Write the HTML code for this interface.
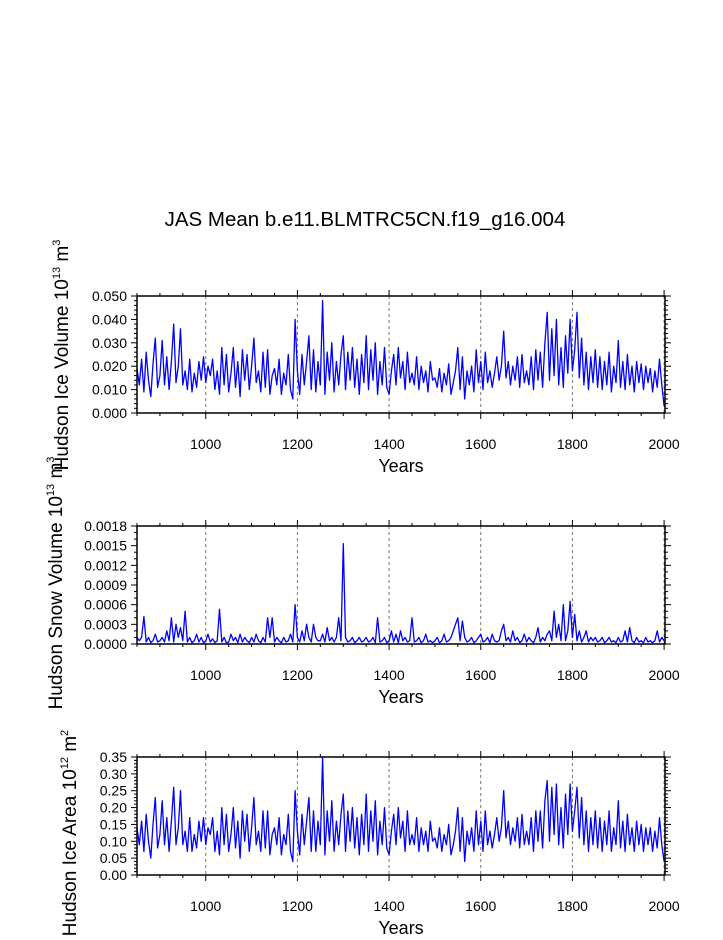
<!DOCTYPE html>
<html><head><meta charset="utf-8"><style>
body{margin:0;background:#fff}
svg{font-family:"Liberation Sans",Arial,sans-serif}
</style></head><body>
<svg id="c" width="723" height="935" viewBox="0 0 723 935">
<text x="365" y="226" font-size="20.5" text-anchor="middle">JAS Mean b.e11.BLMTRC5CN.f19_g16.004</text>
</svg>
<script>
// Ice volume (units of 1e-3 x 10^13 m^3), years 850..2000 step 5
const volVals=[19,12,23,9,26,14,7,21,32,11, 16,31,12,24,10,22,38,13,20,36, 12,18,10,23,9,17,11,22,14,24,
13,20,16,23,10,18,8,28,12,25, 9,17,28,11,22,7,27,14,25,10, 20,32,13,18,9,26,11,27,8,16,
19,12,23,8,17,12,25,10,6,40, 18,8,25,12,22,33,10,27,9,22, 12,48,8,26,14,30,9,22,12,25,
33,10,26,14,28,11,23,8,25,13, 33,10,27,14,30,8,22,12,28,11, 8,18,25,12,28,15,22,10,26,13,
17,12,24,10,20,13,18,9,22,14, 15,11,19,9,17,12,21,8,13,18, 28,10,24,6,18,12,20,9,27,13,
22,10,26,13,18,11,17,24,14,20, 35,15,22,12,20,14,24,11,25,13, 18,12,24,10,27,14,26,11,30,43,
14,36,16,40,12,28,11,33,17,40, 18,27,43,15,32,12,26,10,24,13, 27,11,24,10,22,12,26,9,20,13,
31,11,22,10,25,12,20,9,22,13, 21,10,20,13,19,9,18,11,23,12, 3];
// Snow volume (units of 1e-4 x 10^13 m^3)
const snowVals=[1,0.5,1,4.2,0.3,1,0.2,0.5,1.5,0.3, 0.5,1,0.3,2,0.5,4,0.3,3,1,2.5, 0.5,5,0.3,1,0.2,0.5,1.5,0.3,1,0.2,
0.5,1.5,0.3,0.8,0.2,0.5,5.3,0.3,1,0.2, 0.3,1.5,0.5,1,0.2,1.5,0.3,1,0.5,0.2, 1,0.3,1.5,0.5,0.2,1,0.3,4,1,4,
0.3,1,0.5,0.2,1,0.3,0.5,1.5,0.3,6, 1,0.3,2,0.5,3,1,0.3,3,1,0.5, 0.5,1.5,0.3,2.5,0.5,1,0.3,1,4,0.5,
15.3,1,0.3,0.5,1,0.2,0.5,1,0.3,0.5, 1,0.3,0.5,1,0.2,4,0.3,0.5,1,0.2, 0.5,2,0.3,1.5,0.2,2,0.5,1,0.3,0.5,
4,0.3,0.5,1,0.2,0.5,1.5,0.3,0.5,0.2, 0.5,1,0.2,0.5,1.5,0.3,0.5,1,2,3, 4,0.5,3.5,1,0.3,0.5,1,0.2,0.5,1,
1.5,0.3,0.5,1,0.2,1.5,0.5,0.3,0.5,2, 3,0.5,1,0.3,2,0.5,1,0.2,0.5,1.5, 0.3,1,0.5,0.2,1,2.5,0.3,1,0.5,1.5,
2,0.5,5,1,3,0.5,6,0.5,2,6.5, 1,4.5,0.5,2,0.3,1,2,0.3,1,0.5, 1,0.3,0.5,1,0.2,0.5,1,0.3,0.5,0.2,
1,0.3,0.5,2,0.3,2.5,0.5,0.2,1,0.3, 0.5,0.2,1,0.3,0.5,0.2,0.5,2,0.3,1, 0.5];
// Ice area (units of 1e-2 x 10^12 m^2)
const areaVals=[14,9,16,7,18,10,5,15,23,8, 12,22,9,17,7,16,26,9,14,25, 9,13,7,17,7,12,8,16,10,17,
9,14,12,17,7,13,6,20,9,18, 7,12,20,8,16,5,19,10,18,7, 14,23,9,13,7,19,8,19,6,12,
14,9,17,6,12,9,18,7,4,25, 13,6,18,9,16,23,7,19,7,16, 9,35,6,19,10,22,7,16,9,18,
24,7,19,10,20,8,17,6,18,9, 24,7,19,10,22,6,16,9,20,8, 6,13,18,9,20,11,16,7,19,9,
12,9,17,7,14,9,13,7,16,10, 11,8,14,7,12,9,15,6,9,13, 20,7,17,4,13,9,14,7,19,9,
16,7,19,9,13,8,12,17,10,14, 25,11,16,9,14,10,17,8,18,9, 13,9,17,7,19,10,19,8,22,28,
10,26,12,27,9,20,8,24,12,27, 13,19,26,11,23,9,19,7,17,9, 19,8,17,7,16,9,19,7,14,9,
22,8,16,7,18,9,14,7,16,9, 15,7,14,9,14,7,13,8,17,9, 4];
const years=[];for(let y=850;y<=2000;y+=5)years.push(y);
const xTicks=[1000,1200,1400,1600,1800,2000];
const volTicks=["0.000","0.010","0.020","0.030","0.040","0.050"];
const snowTicks=["0.0000","0.0003","0.0006","0.0009","0.0012","0.0015","0.0018"];
const areaTicks=["0.00","0.05","0.10","0.15","0.20","0.25","0.30","0.35"];

const NS="http://www.w3.org/2000/svg";
const svg=document.getElementById('c');
const X0=137,X1=665,Y0=850,Y1=2002;
const xs=y=>X0+(y-Y0)/(Y1-Y0)*(X1-X0);
function mk(t,a,p){const e=document.createElementNS(NS,t);for(const k in a)e.setAttribute(k,a[k]);(p||svg).appendChild(e);return e;}

const panels=[
 {name:'ice-volume',top:296,bot:413,vals:volVals,max:50,ticks:volTicks,step:10,minor:2,ly:355,lx:62,lab:'Hudson Ice Volume 10',sup:'13',unit:' m',usup:'3'},
 {name:'snow-volume',top:526,bot:644,vals:snowVals,max:18,ticks:snowTicks,step:3,minor:1,ly:583,lx:56,lab:'Hudson Snow Volume 10',sup:'13',unit:' m',usup:'3'},
 {name:'ice-area',top:757,bot:875,vals:areaVals,max:35,ticks:areaTicks,step:5,minor:1,ly:833,lx:70,lab:'Hudson Ice Area 10',sup:'12',unit:' m',usup:'2'}
];
panels.forEach(p=>{
 const g=mk('g',{});
 
 
 const ys=v=>p.bot-v/p.max*(p.bot-p.top);
 xTicks.forEach(t=>{const l=mk('line',{x1:xs(t),x2:xs(t),y1:p.top,y2:p.bot,stroke:'#777','stroke-width':1,'stroke-dasharray':'3,3'},g);
  });
 const d=p.vals.map((v,i)=>(i?'L':'M')+xs(years[i]).toFixed(1)+','+ys(v).toFixed(1)).join('');
 const path=mk('path',{d:d,fill:'none',stroke:'#0000ff','stroke-width':1.3,'stroke-linejoin':'round'},g);
 
 
 const fr=mk('rect',{x:X0,y:p.top,width:X1-X0,height:p.bot-p.top,fill:'none',stroke:'#000','stroke-width':1.5},g);
 
 for(let t=850;t<=2000;t+=50){const maj=t%200===0;const L=maj?6:3;const x=xs(t);
  mk('line',{x1:x,x2:x,y1:p.bot,y2:p.bot+L,stroke:'#000'},g);
  mk('line',{x1:x,x2:x,y1:p.top,y2:p.top-L,stroke:'#000'},g);}
 xTicks.forEach(t=>{const tx=mk('text',{x:xs(t),y:p.bot+36,'font-size':14,'text-anchor':'middle'},g);tx.textContent=t;
  });
 const xt=mk('text',{x:401,y:p.bot+59,'font-size':18,'text-anchor':'middle'},g);xt.textContent='Years';
 
 for(let v=0;v<=p.max+1e-9;v+=p.minor){const maj=Math.abs(v/p.step-Math.round(v/p.step))<1e-6;const L=maj?6:3;const y=ys(v);
  mk('line',{x1:X0,x2:X0-L,y1:y,y2:y,stroke:'#000'},g);
  mk('line',{x1:X1,x2:X1+L,y1:y,y2:y,stroke:'#000'},g);}
 p.ticks.forEach((s,i)=>{const tx=mk('text',{x:X0-10,y:ys(i*p.step)+5,'font-size':14,'text-anchor':'end'},g);tx.textContent=s;
  });
 const yt=mk('text',{x:0,y:0,'font-size':19,'text-anchor':'middle',transform:`translate(${p.lx+6},${p.ly}) rotate(-90)`},g);
 
 const a=mk('tspan',{},yt);a.textContent=p.lab;
 const b=mk('tspan',{dy:-8,'font-size':11},yt);b.textContent=p.sup;
 const c=mk('tspan',{dy:8},yt);c.textContent=p.unit;
 const d2=mk('tspan',{dy:-8,'font-size':11},yt);d2.textContent=p.usup;
});
</script>
</body></html>
